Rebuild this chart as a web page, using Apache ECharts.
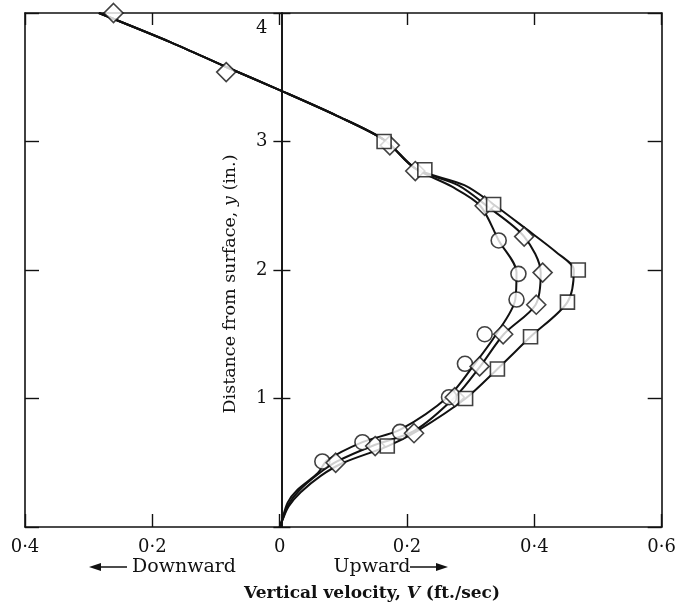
<!DOCTYPE html>
<html>
<head>
<meta charset="utf-8">
<style>
  html, body { margin: 0; padding: 0; background: #fff; }
  #chart { width: 679px; height: 613px; }
</style>
<script src="https://cdn.jsdelivr.net/npm/echarts@6/dist/echarts.min.js"></script>
</head>
<body>
<div id="chart"></div>
<script>
// measured points [V, y]
const circlePts = [[0.067,0.51],[0.130,0.66],[0.189,0.74],[0.266,1.01],[0.291,1.27],[0.322,1.50],[0.372,1.77],[0.375,1.97],[0.344,2.23]];
const diamondPts = [[-0.261,4.0],[-0.084,3.54],[0.173,2.97],[0.213,2.77],[0.322,2.50],[0.384,2.26],[0.413,1.98],[0.403,1.73],[0.351,1.50],[0.314,1.25],[0.275,1.01],[0.211,0.73],[0.150,0.63],[0.088,0.50]];
const squarePts = [[0.164,3.0],[0.228,2.78],[0.336,2.51],[0.469,2.0],[0.452,1.75],[0.394,1.48],[0.342,1.23],[0.292,1.0],[0.169,0.63]];

// fitted curves
const upperCurve = [[-0.284,4.0],[-0.17,3.77],[-0.084,3.58],[0,3.40],[0.09,3.2],[0.165,3.01],[0.213,2.79]];
const circleCurve = [[0.27,2.65],[0.315,2.5],[0.344,2.23],[0.372,1.98],[0.37,1.77],[0.34,1.5],[0.305,1.26],[0.266,1.02],[0.19,0.76],[0.13,0.66],[0.075,0.52],[0.06,0.42],[0.028,0.29],[0.0125,0.19],[0.004,0.06],[0,0]];
const diamondCurve = [[0.28,2.66],[0.325,2.5],[0.384,2.26],[0.41,1.98],[0.402,1.73],[0.352,1.5],[0.315,1.25],[0.277,1.02],[0.212,0.75],[0.15,0.64],[0.09,0.51],[0.06,0.41],[0.03,0.28],[0.013,0.17],[0.004,0.05],[0,0]];
const squareCurve = [[0.29,2.66],[0.336,2.51],[0.387,2.32],[0.434,2.14],[0.462,2.0],[0.452,1.75],[0.394,1.48],[0.342,1.23],[0.292,1.0],[0.217,0.75],[0.17,0.63],[0.1,0.5],[0.065,0.4],[0.033,0.27],[0.014,0.16],[0.004,0.05],[0,0]];

const xMin = -0.4, xMax = 0.6, xStep = 0.2;
const yMin = 0, yMax = 4, yStep = 1;

const serif = 'DejaVu Serif';
const black = '#111';

// grid box in px
const gLeft = 25, gRight = 13, gTop = 13, gBottom = 86;
const gWidth = 679 - gLeft - gRight;
// shift of the centre axis (V = 0) from the left frame
const zeroShift = gWidth * (0 - xMin) / (xMax - xMin);

function xLabel(v) {
    if (Math.abs(v) < 1e-9) return '0';
    return Math.abs(v).toFixed(1).replace('.', '·');
}

var chartDom = document.getElementById('chart');
var myChart = echarts.init(chartDom);

function curveSeries(pts) {
    return {
        type: 'line',
        data: upperCurve.concat(pts),
        smooth: 0.3,
        symbol: 'none',
        lineStyle: { color: black, width: 2 },
        z: 2
    };
}
function markSeries(pts, symbol, size) {
    return {
        type: 'scatter',
        data: pts,
        symbol: symbol,
        symbolSize: size,
        clip: false,
        itemStyle: { color: '#fff', borderColor: black, borderWidth: 1.6 },
        z: 3
    };
}

var frameLine = { show: true, onZero: false, lineStyle: { color: black, width: 1.6 } };

var option = {
    animation: false,
    grid: { left: gLeft, right: gRight, top: gTop, bottom: gBottom },
    xAxis: [
        {
            type: 'value', position: 'bottom', min: xMin, max: xMax, interval: xStep,
            axisLine: frameLine,
            axisTick: { inside: true, length: 13, lineStyle: { color: black, width: 1.4 } },
            axisLabel: { formatter: xLabel, margin: 11, color: black, fontFamily: serif, fontSize: 18 },
            splitLine: { show: false }
        },
        {
            type: 'value', position: 'top', min: xMin, max: xMax, interval: xStep,
            axisLine: frameLine,
            axisTick: { inside: true, length: 12, lineStyle: { color: black, width: 1.4 } },
            axisLabel: { show: false },
            splitLine: { show: false }
        }
    ],
    yAxis: [
        {
            type: 'value', position: 'left', min: yMin, max: yMax, interval: yStep,
            axisLine: frameLine,
            axisTick: { inside: true, length: 14, lineStyle: { color: black, width: 1.4 } },
            axisLabel: { show: false },
            splitLine: { show: false }
        },
        {
            type: 'value', position: 'right', min: yMin, max: yMax, interval: yStep,
            axisLine: frameLine,
            axisTick: { inside: true, length: 14, lineStyle: { color: black, width: 1.4 } },
            axisLabel: { show: false },
            splitLine: { show: false }
        },
        {
            type: 'value', position: 'left', offset: -zeroShift, min: yMin, max: yMax, interval: yStep,
            axisLine: frameLine,
            axisTick: { inside: true, length: 9, lineStyle: { color: black, width: 1.4 } },
            axisLabel: {
                margin: 14, color: black, fontFamily: serif, fontSize: 18,
                formatter: function (v) { return v === yMax ? '{d|' + v + '}' : (v === 0 ? '' : String(v)); },
                rich: { d: { fontFamily: serif, fontSize: 18, color: black, padding: [30, 0, 0, 0] } }
            },
            splitLine: { show: false }
        },
        {
            type: 'value', position: 'left', offset: -zeroShift, min: yMin, max: yMax, interval: yStep,
            axisLine: frameLine,
            axisTick: { inside: false, length: 8, lineStyle: { color: black, width: 1.4 } },
            axisLabel: { show: false },
            splitLine: { show: false }
        }
    ],
    series: [
        curveSeries(circleCurve),
        curveSeries(diamondCurve),
        curveSeries(squareCurve),
        markSeries(circlePts, 'circle', 15),
        markSeries(diamondPts, 'diamond', 19),
        markSeries(squarePts, 'rect', 14)
    ],
    graphic: [
        {
            type: 'text', x: 230, y: 284, rotation: Math.PI / 2,
            style: {
                text: '{n|Distance from surface, }{i|y}{n| (in.)}',
                align: 'center', verticalAlign: 'middle',
                rich: {
                    n: { fontFamily: serif, fontSize: 17.5, fill: black },
                    i: { fontFamily: serif, fontSize: 17.5, fontStyle: 'italic', fill: black }
                }
            }
        },
        {
            type: 'text', x: 184, y: 567,
            style: { text: 'Downward', align: 'center', verticalAlign: 'middle', fontFamily: serif, fontSize: 19, fill: black }
        },
        {
            type: 'text', x: 372, y: 567,
            style: { text: 'Upward', align: 'center', verticalAlign: 'middle', fontFamily: serif, fontSize: 19, fill: black }
        },
        { type: 'line', shape: { x1: 98, y1: 567, x2: 127, y2: 567 }, style: { stroke: black, lineWidth: 1.5 } },
        { type: 'polygon', shape: { points: [[89, 567], [101, 563], [101, 571]] }, style: { fill: black } },
        { type: 'line', shape: { x1: 410, y1: 567, x2: 438, y2: 567 }, style: { stroke: black, lineWidth: 1.5 } },
        { type: 'polygon', shape: { points: [[448, 567], [436, 563], [436, 571]] }, style: { fill: black } },
        {
            type: 'text', x: 372, y: 594,
            style: {
                text: '{b|Vertical velocity, }{bi|V}{b| (ft./sec)}',
                align: 'center', verticalAlign: 'middle',
                rich: {
                    b: { fontFamily: serif, fontSize: 17, fontWeight: 'bold', fill: black },
                    bi: { fontFamily: serif, fontSize: 17, fontWeight: 'bold', fontStyle: 'italic', fill: black }
                }
            }
        }
    ]
};

option && myChart.setOption(option);
</script>
</body>
</html>
